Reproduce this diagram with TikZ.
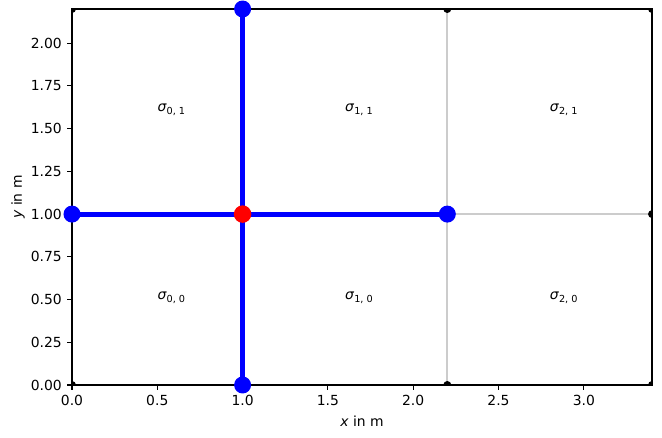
\documentclass[tikz,border=0pt]{standalone}
\usepackage{fontspec}
\setmainfont{DejaVu Sans}
\definecolor{gridgray}{RGB}{204,204,204}
\definecolor{mblue}{RGB}{0,0,255}
\definecolor{mred}{RGB}{255,0,0}
\newcommand{\sigl}[1]{\textit{σ}\raisebox{-3.2pt}{\fontsize{9.7}{10}\selectfont #1}}
\tikzset{
  gridline/.style={gridgray, line width=1.7pt},
  blueline/.style={mblue, line width=5pt},
  bluedot/.style={circle, fill=mblue, inner sep=0pt, minimum size=17pt},
  reddot/.style={circle, fill=mred, inner sep=0pt, minimum size=17.5pt},
  tickmark/.style={line width=1.1pt},
  ticklab/.style={inner sep=0pt},
  cellab/.style={anchor=base west, inner sep=0pt},
}
\begin{document}
\begin{tikzpicture}[x=170.6pt,y=170.9pt,font=\fontsize{13.9}{16}\selectfont]
\useasboundingbox (-72pt,-53pt) rectangle (590pt,385pt);
% mesh lines
\draw[gridline] (1,0) -- (1,2.2);
\draw[gridline] (2.2,0) -- (2.2,2.2);
\draw[gridline] (0,1) -- (3.4,1);
% corner nodes (clipped)
\begin{scope}
\clip (0,0) rectangle (3.4,2.2);
\foreach \p in {(0,0),(1,0),(2.2,0),(3.4,0),(0,1),(1,1),(2.2,1),(3.4,1),(0,2.2),(1,2.2),(2.2,2.2),(3.4,2.2)}
  \fill \p circle (4pt);
\end{scope}
% highlighted nodes
\coordinate (pl) at (0,1);
\coordinate (pb) at (1,0);
\coordinate (pt) at (1,2.2);
\coordinate (pr) at (2.2,1);
\coordinate (pc) at (1,1);
\draw[blueline] (pb) -- (pt);
\draw[blueline] (pl) -- (pr);
% axes frame
\draw[tickmark] (0,0) rectangle (3.4,2.2);
% ticks
\foreach \x in {0.0,0.5,1.0,1.5,2.0,2.5,3.0} {
  \draw[tickmark] (\x,0) -- ++(0,-4.9pt);
  \node[ticklab, anchor=base, yshift=-21pt] at (\x,0) {\x};
}
\foreach \y in {0.00,0.25,0.50,0.75,1.00,1.25,1.50,1.75,2.00} {
  \draw[tickmark] (0,\y) -- ++(-4.9pt,0);
  \node[ticklab, anchor=east, xshift=-10pt] at (0,\y) {\y};
}
% axis labels
\node[anchor=base] (xl) at ([yshift=-41.5pt]1.7,0) {\textit{x} in m};
\node[rotate=90] (yl) at ([xshift=-54pt]0,1.1) {\textit{y} in m};
% cell labels
\node[cellab] (s01) at (0.5,1.6) {\sigl{0, 1}};
\node[cellab] (s11) at (1.6,1.6) {\sigl{1, 1}};
\node[cellab] (s21) at (2.8,1.6) {\sigl{2, 1}};
\node[cellab] (s00) at (0.5,0.5) {\sigl{0, 0}};
\node[cellab] (s10) at (1.6,0.5) {\sigl{1, 0}};
\node[cellab] (s20) at (2.8,0.5) {\sigl{2, 0}};
% markers
\node[bluedot] (nl) at (pl) {};
\node[bluedot] (nb) at (pb) {};
\node[bluedot] (nt) at (pt) {};
\node[bluedot] (nr) at (pr) {};
\node[reddot] (nc) at (pc) {};
\end{tikzpicture}
\end{document}
